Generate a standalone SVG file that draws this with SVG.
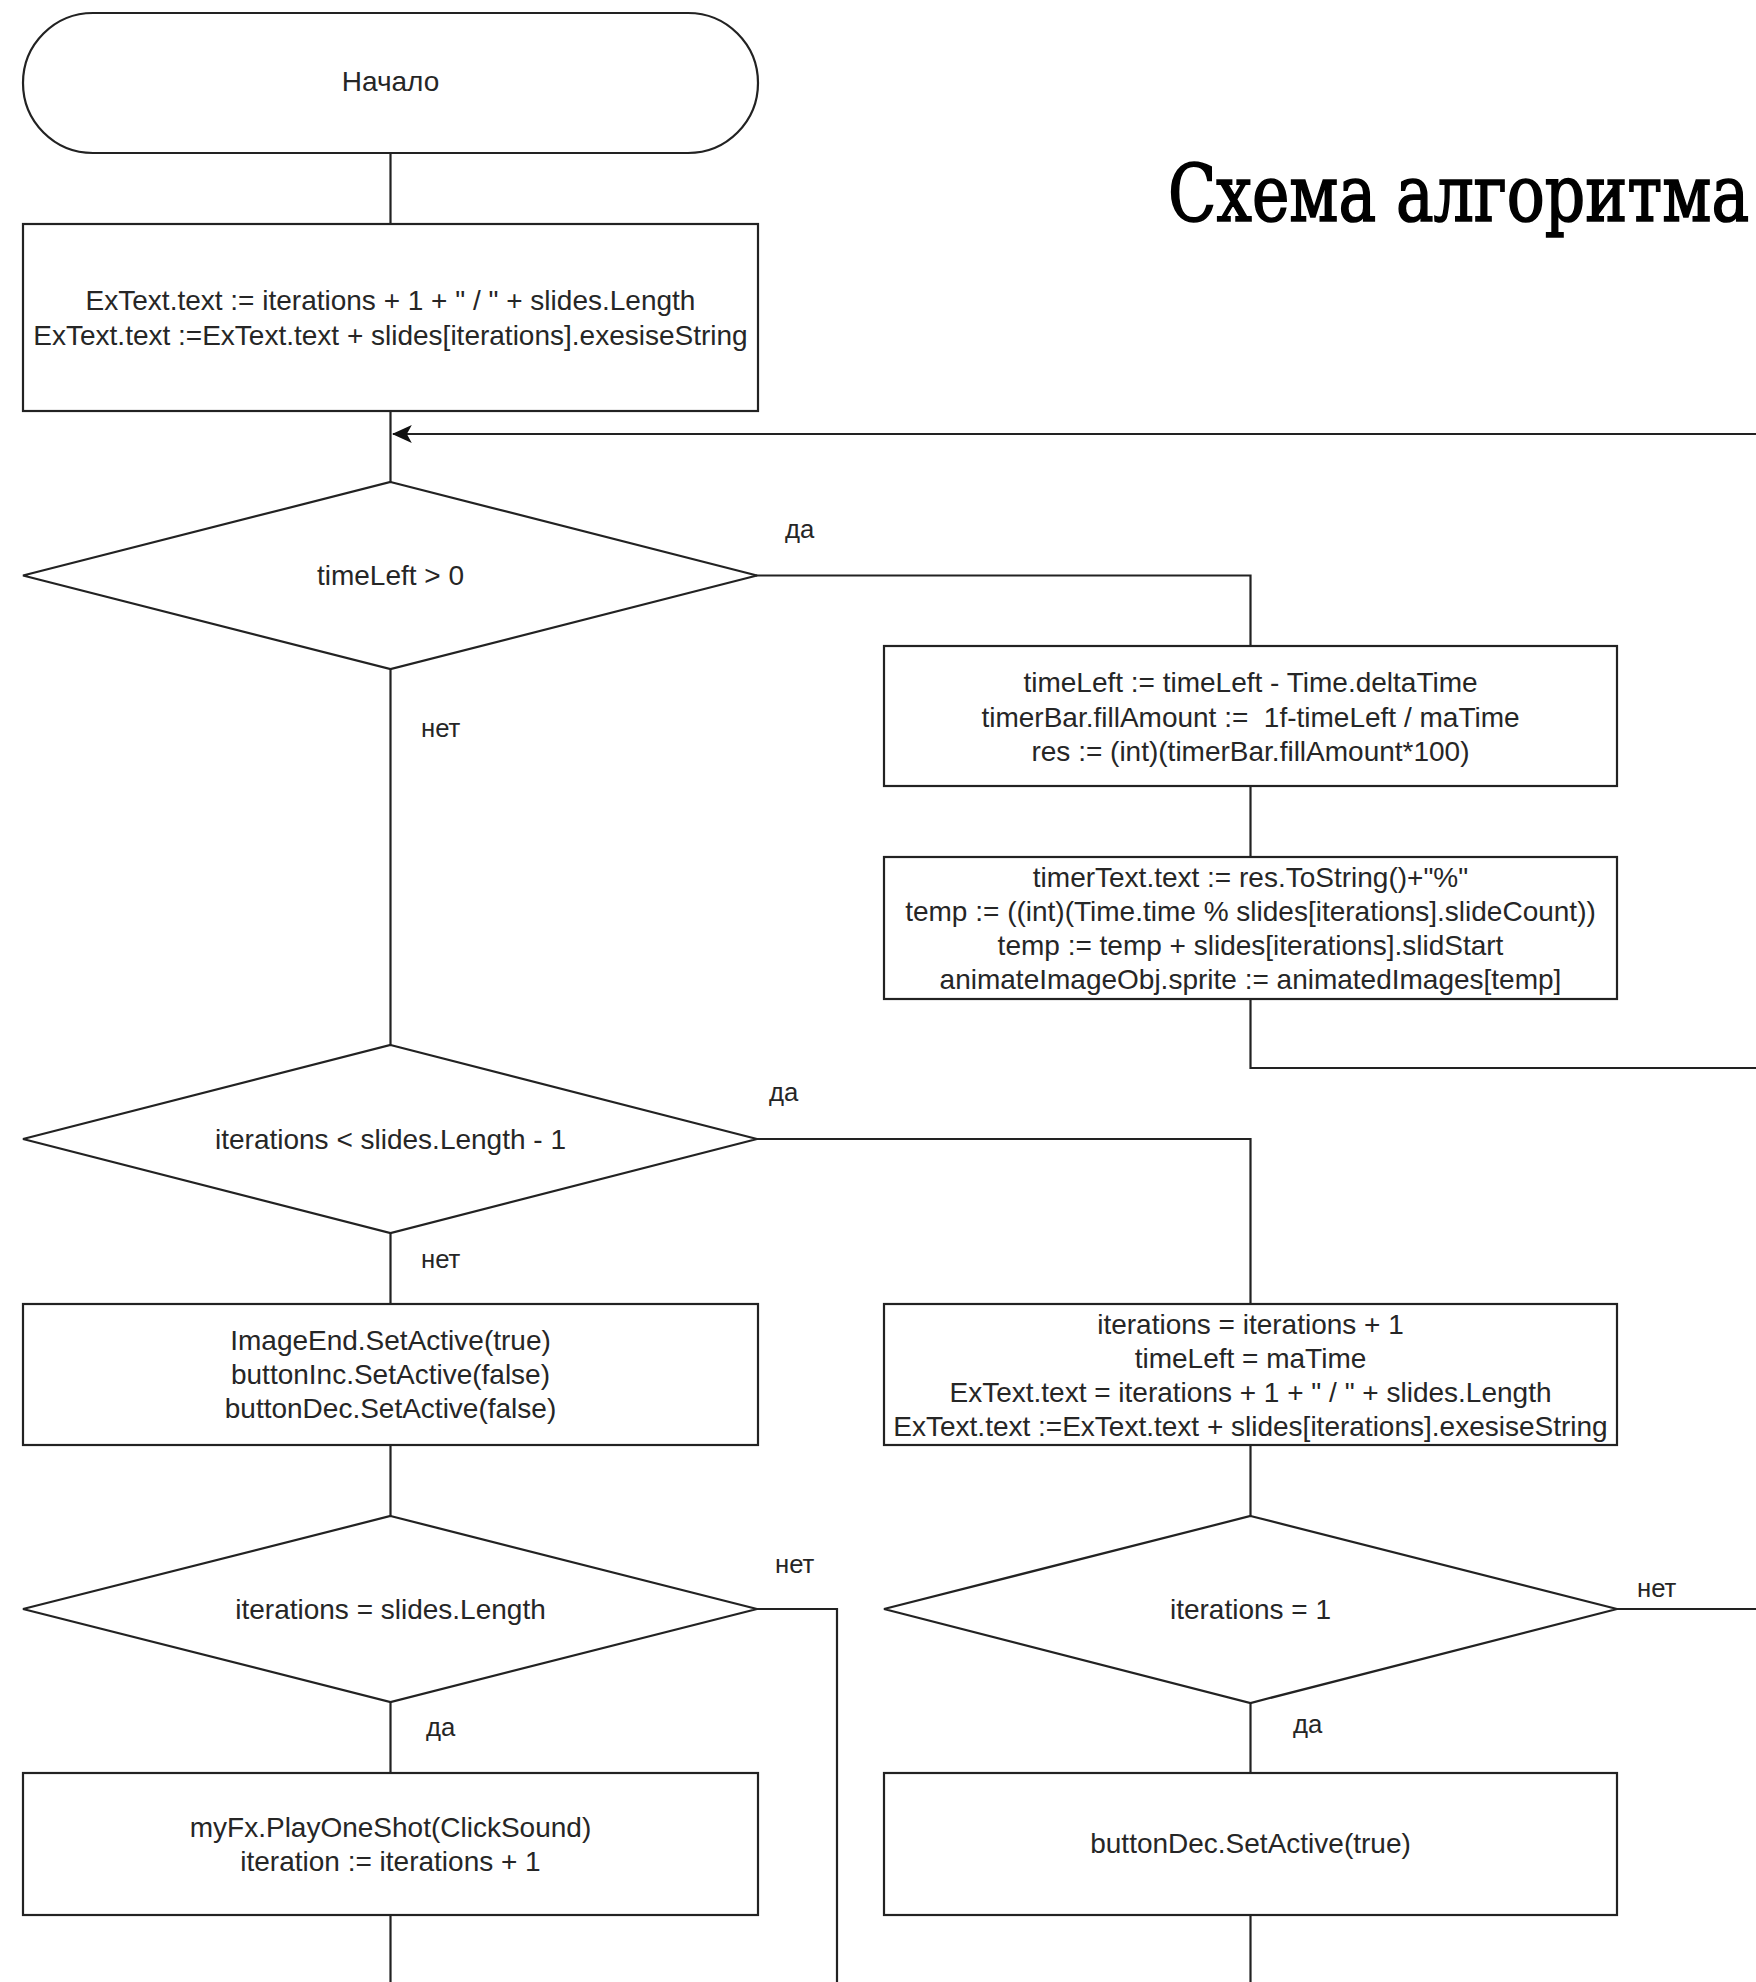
<svg xmlns="http://www.w3.org/2000/svg" width="1756" height="1982" viewBox="0 0 1756 1982">
<defs>
<style>
.shape{fill:#fff;stroke:#222;stroke-width:2.2}
.edge{fill:none;stroke:#222;stroke-width:2.2}
.t{font-family:"Liberation Sans",Arial,sans-serif;font-size:28px;fill:#262626;text-anchor:middle;white-space:pre}
.lbl{font-family:"Liberation Sans",Arial,sans-serif;font-size:25.7px;fill:#262626}
.title{font-family:"DejaVu Serif Condensed","DejaVu Serif",serif;font-size:78px;fill:#000;stroke:#000;stroke-width:1.6}
</style>
<marker id="arr" viewBox="0 0 20 20" refX="19" refY="10" markerWidth="9" markerHeight="9" markerUnits="strokeWidth" orient="auto">
<path d="M0,1 L20,10 L0,19 L5,10 Z" fill="#111"/>
</marker>
</defs>
<rect width="1756" height="1982" fill="#fff"/>
<text class="title" transform="translate(1168,221) scale(0.9,1)" x="0" y="0">Схема алгоритма</text>
<g id="connectors">
<path class="edge" d="M390.5,153 V224"/>
<path class="edge" d="M390.5,411 V482"/>
<path class="edge" d="M1756,434 H393" marker-end="url(#arr)"/>
<path class="edge" d="M756,575.5 H1250.5 V646"/>
<path class="edge" d="M1250.5,786 V857"/>
<path class="edge" d="M1250.5,999 V1068 H1756"/>
<path class="edge" d="M390.5,669 V1045"/>
<path class="edge" d="M756,1139 H1250.5 V1304"/>
<path class="edge" d="M390.5,1233 V1304"/>
<path class="edge" d="M390.5,1445 V1516"/>
<path class="edge" d="M757,1609 H837 V1982"/>
<path class="edge" d="M390.5,1702 V1773"/>
<path class="edge" d="M390.5,1915 V1982"/>
<path class="edge" d="M1250.5,1445 V1516"/>
<path class="edge" d="M1617,1609 H1756"/>
<path class="edge" d="M1250.5,1703 V1773"/>
<path class="edge" d="M1250.5,1915 V1982"/>
<text class="lbl" x="785" y="538">да</text>
<text class="lbl" x="421" y="737">нет</text>
<text class="lbl" x="769" y="1101">да</text>
<text class="lbl" x="421" y="1268">нет</text>
<text class="lbl" x="775" y="1573">нет</text>
<text class="lbl" x="426" y="1736">да</text>
<text class="lbl" x="1637" y="1597">нет</text>
<text class="lbl" x="1293" y="1733">да</text>
</g>
<g id="start">
<rect class="shape" x="23" y="13" width="735" height="140" rx="70" ry="70"/>
<text class="t" x="390.5" y="91">Начало</text>
</g>
<g id="init">
<rect class="shape" x="23" y="224" width="735" height="187"/>
<text class="t" x="390.5" y="310">ExText.text := iterations + 1 + " / " + slides.Length</text>
<text class="t" x="390.5" y="345">ExText.text :=ExText.text + slides[iterations].exesiseString</text>
</g>
<g id="dec-timeleft">
<polygon class="shape" points="390.5,482 757,575.5 390.5,669 23,575.5"/>
<text class="t" x="390.5" y="585">timeLeft &gt; 0</text>
</g>
<g id="update-timer">
<rect class="shape" x="884" y="646" width="733" height="140"/>
<text class="t" x="1250.5" y="692">timeLeft := timeLeft - Time.deltaTime</text>
<text class="t" x="1250.5" y="726.5">timerBar.fillAmount :=  1f-timeLeft / maTime</text>
<text class="t" x="1250.5" y="761">res := (int)(timerBar.fillAmount*100)</text>
</g>
<g id="update-anim">
<rect class="shape" x="884" y="857" width="733" height="142"/>
<text class="t" x="1250.5" y="887">timerText.text := res.ToString()+"%"</text>
<text class="t" x="1250.5" y="921">temp := ((int)(Time.time % slides[iterations].slideCount))</text>
<text class="t" x="1250.5" y="955">temp := temp + slides[iterations].slidStart</text>
<text class="t" x="1250.5" y="989">animateImageObj.sprite := animatedImages[temp]</text>
</g>
<g id="dec-iterations">
<polygon class="shape" points="390.5,1045 757,1139 390.5,1233 23,1139"/>
<text class="t" x="390.5" y="1149">iterations &lt; slides.Length - 1</text>
</g>
<g id="end-state">
<rect class="shape" x="23" y="1304" width="735" height="141"/>
<text class="t" x="390.5" y="1350">ImageEnd.SetActive(true)</text>
<text class="t" x="390.5" y="1384">buttonInc.SetActive(false)</text>
<text class="t" x="390.5" y="1418">buttonDec.SetActive(false)</text>
</g>
<g id="next-slide">
<rect class="shape" x="884" y="1304" width="733" height="141"/>
<text class="t" x="1250.5" y="1333.5">iterations = iterations + 1</text>
<text class="t" x="1250.5" y="1367.5">timeLeft = maTime</text>
<text class="t" x="1250.5" y="1401.5">ExText.text = iterations + 1 + " / " + slides.Length</text>
<text class="t" x="1250.5" y="1435.5">ExText.text :=ExText.text + slides[iterations].exesiseString</text>
</g>
<g id="dec-last">
<polygon class="shape" points="390.5,1516 757,1609 390.5,1702 23,1609"/>
<text class="t" x="390.5" y="1619">iterations = slides.Length</text>
</g>
<g id="dec-first">
<polygon class="shape" points="1250.5,1516 1617,1609 1250.5,1703 884,1609"/>
<text class="t" x="1250.5" y="1619">iterations = 1</text>
</g>
<g id="play-sound">
<rect class="shape" x="23" y="1773" width="735" height="142"/>
<text class="t" x="390.5" y="1837">myFx.PlayOneShot(ClickSound)</text>
<text class="t" x="390.5" y="1871">iteration := iterations + 1</text>
</g>
<g id="enable-dec">
<rect class="shape" x="884" y="1773" width="733" height="142"/>
<text class="t" x="1250.5" y="1853">buttonDec.SetActive(true)</text>
</g>
</svg>
